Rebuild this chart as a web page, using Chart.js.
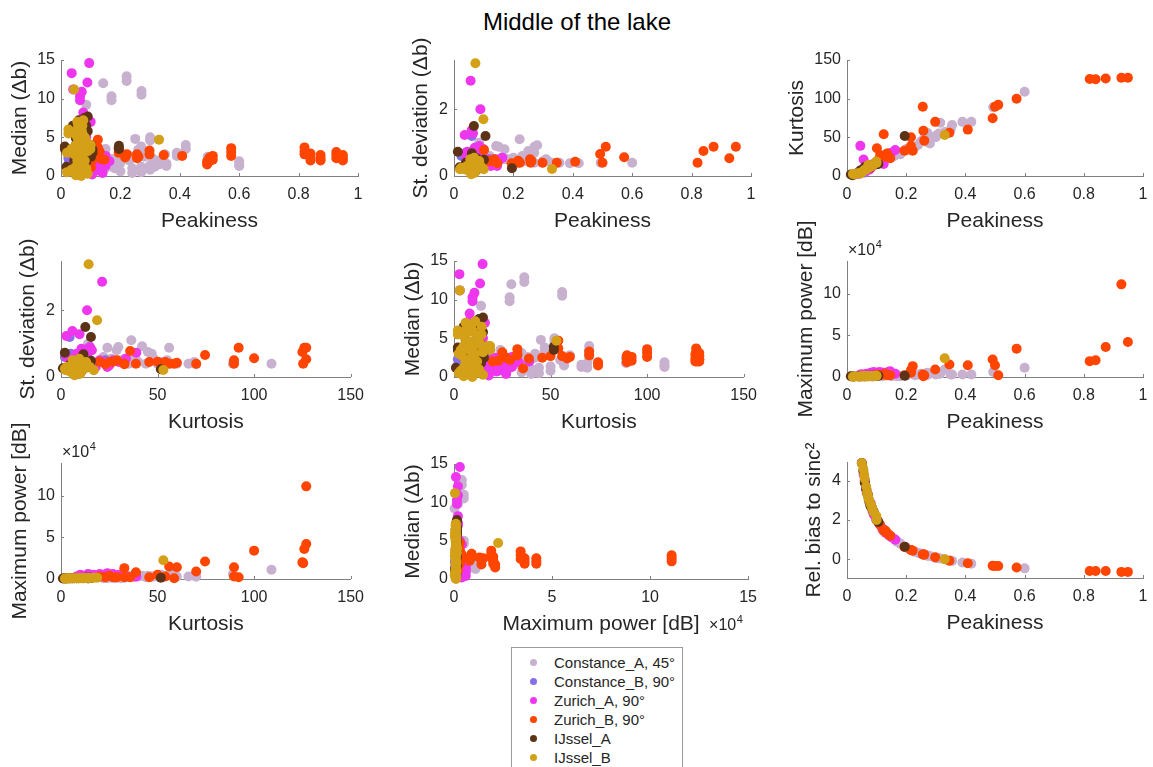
<!DOCTYPE html>
<html>
<head>
<meta charset="utf-8">
<script src="https://cdn.jsdelivr.net/npm/chart.js@4.4.1/dist/chart.umd.min.js"></script>
<style>
body { margin: 0; width: 1153px; height: 767px; overflow: hidden; background: #fff; position: relative;
       font-family: "Liberation Sans", Arial, Helvetica, sans-serif; }
canvas { position: absolute; }
#title { position: absolute; left: 377px; top: 10px; width: 400px; text-align: center;
         font-size: 24px; line-height: 24px; color: #000; }
#legend { position: absolute; left: 511px; top: 647px; width: 170px; height: 200px;
          border: 1px solid #9a9a9a; background: #fff; }
.lg { position: absolute; left: 42px; height: 19px; line-height: 19px; font-size: 15px; color: #262626; white-space: nowrap; }
.dot { position: absolute; left: 18px; width: 7px; height: 7px; border-radius: 50%; }
</style>
</head>
<body>
<div id="title">Middle of the lake</div>
<div id="legend"></div>
<script>
// one row per measurement: [peakiness, [medians], st. deviation, kurtosis, max power (dB), rel. bias to sinc^2]
var constanceA = [
  [0.085, [9.2], 1.0, 14, 300, 2.5],
  [0.142, [12.0], 0.9, 29.7, 3000, 1.25],
  [0.17, [10.3, 9.8], 0.8, 28.8, 2000, 0.9],
  [0.221, [12.9, 12.3], 1.1, 36.4, 4000, 0.45],
  [0.271, [11.0, 10.5], 0.88, 56, 5000, 0.2],
  [0.6, [1.9, 1.5, 1.3], 0.4, 109, 11000, -0.46],
  [0.494, [2.5, 1.8], 0.4, 89, 6000, -0.34],
  [0.42, [4.0, 3.5], 0.38, 70, 3000, -0.22],
  [0.39, [3.0, 2.6], 0.38, 70, 3000, -0.16],
  [0.355, [1.6, 1.3], 0.4, 66, 3000, -0.08],
  [0.33, [2.0, 1.5], 0.4, 57, 9000, 0.0],
  [0.30, [5.0, 4.6], 0.45, 52, 5000, 0.08],
  [0.315, [1.8, 1.2], 0.45, 69, 4000, 0.04],
  [0.25, [4.8], 0.75, 45, 4000, 0.28],
  [0.27, [3.8, 3.4], 0.7, 47, 3000, 0.2],
  [0.28, [3.0, 2.5], 0.92, 42, 4000, 0.17],
  [0.23, [2.6, 2.0], 0.6, 38, 2000, 0.38],
  [0.2, [2.3, 1.7], 0.55, 33, 1500, 0.6],
  [0.18, [1.6, 1.0], 0.5, 28, 1000, 0.8],
  [0.16, [2.0, 1.4], 0.55, 26, 1500, 1.05],
  [0.15, [3.5, 1.0], 0.88, 24, 1000, 1.15],
  [0.24, [0.4, 1.0], 0.45, 40, 3000, 0.33],
  [0.27, [0.5, 1.2], 0.4, 44, 2000, 0.2],
  [0.3, [0.8, 1.4], 0.4, 50, 3000, 0.08],
  [0.31, [2.2], 0.5, 55, 4000, 0.05],
  [0.2, [0.6, 3.1], 0.4, 35, 2000, 0.6],
  [0.12, [2.5, 1.8], 0.6, 22, 1000, 1.5],
  [0.35, [2.8], 0.4, 60, 3000, -0.06],
  [0.26, [3.4, 2.8], 0.55, 48, 3000, 0.25],
  [0.17, [2.2], 0.5, 31, 1000, 0.9]
];
var constanceB = [
  [0.025, [2.3, 1.5], 0.6, 2, 500, 10],
  [0.06, [1.2, 0.6], 1.2, 4.5, 1000, 4.0],
  [0.09, [1.0], 0.85, 13.8, 3000, 2.4],
  [0.12, [1.2, 0.8], 0.5, 23, 4000, 1.55],
  [0.1, [2.0], 0.4, 18, 3000, 2.0],
  [0.04, [3.0], 0.7, 5, 1000, 6.0]
];
var zurichA = [
  [0.036, [13.3], 1.23, 2.8, 1000, 7.3],
  [0.095, [14.6], 0.5, 14.8, 3000, 2.2],
  [0.089, [12.1], 2.0, 13.5, 2000, 2.4],
  [0.07, [10.9], 0.85, 10.6, 2000, 3.3],
  [0.064, [10.3, 9.8], 1.28, 9.6, 1500, 3.6],
  [0.075, [8.2, 7.3], 0.7, 8.1, 2000, 3.0],
  [0.056, [2.5], 2.86, 21.3, 3000, 4.3],
  [0.06, [6.5], 1.38, 5.9, 1000, 4.0],
  [0.045, [2.0], 0.73, 39, 3000, 5.5],
  [0.041, [11.2], 0.6, 3, 1000, 6.2],
  [0.08, [2.6, 1.4], 0.45, 10, 5000, 2.85],
  [0.09, [2.0, 0.8], 0.55, 14, 6000, 2.3],
  [0.1, [1.5, 0.5], 0.4, 17, 5000, 2.0],
  [0.11, [2.4, 1.2], 0.5, 20, 6000, 1.8],
  [0.12, [1.8, 0.7], 0.45, 22, 5000, 1.55],
  [0.13, [2.2, 1.0], 0.35, 25, 4000, 1.35],
  [0.14, [1.6, 0.4], 0.5, 27, 6000, 1.25],
  [0.15, [2.6, 1.3], 0.45, 30, 5000, 1.12],
  [0.163, [1.9], 0.55, 33.6, 4000, 1.0],
  [0.124, [1.1], 0.3, 15.5, 5000, 1.5],
  [0.05, [3.0, 1.0], 0.5, 8, 3000, 4.9],
  [0.066, [4.5, 2.2], 0.6, 12, 4000, 3.5],
  [0.085, [5.0, 3.2], 0.9, 15, 3000, 2.6],
  [0.105, [0.2, 0.8], 0.3, 18, 4000, 1.9],
  [0.145, [2.3], 0.3, 24, 7000, 1.2],
  [0.1, [7.0], 0.8, 16, 2000, 2.0]
];
var zurichB = [
  [0.82, [3.7, 3.2, 2.8], 0.40, 125.4, 19000, -0.59],
  [0.84, [2.9, 2.4, 2.0], 0.75, 125, 20000, -0.59],
  [0.874, [2.7, 2.3, 2.0], 0.88, 126, 36000, -0.59],
  [0.927, [3.1, 2.7, 2.3], 0.53, 127, 111000, -0.64],
  [0.949, [2.7, 2.3, 2.0], 0.88, 127, 42000, -0.64],
  [0.573, [3.6, 3.1, 2.6], 0.56, 100, 34000, -0.42],
  [0.511, [2.6, 2.1], 0.88, 92, 2000, -0.34],
  [0.5, [2.4, 1.9], 0.4, 89.6, 14000, -0.34],
  [0.492, [1.9, 1.5], 0.66, 74.6, 21000, -0.33],
  [0.408, [2.6], 0.43, 60, 14000, -0.2],
  [0.346, [2.7], 0.4, 56, 15000, -0.07],
  [0.298, [3.3, 2.8], 0.4, 70, 9000, 0.1],
  [0.256, [2.8, 2.3], 0.5, 89.6, 3000, 0.25],
  [0.258, [2.4], 0.4, 58.6, 1000, 0.25],
  [0.261, [2.5], 0.45, 45.7, 2000, 0.24],
  [0.216, [2.7], 0.46, 50, 5000, 0.47],
  [0.216, [2.4], 0.4, 38.8, 8000, 0.47],
  [0.222, [2.8], 0.4, 32.8, 13000, 0.44],
  [0.194, [3.6, 3.0], 0.38, 32.8, 2000, 0.63],
  [0.124, [4.7, 3.7], 0.45, 54, 3000, 1.45],
  [0.101, [1.1], 0.78, 35.8, 2000, 2.0],
  [0.112, [2.5], 0.46, 27, 2000, 1.75],
  [0.135, [2.2], 0.5, 29, 2000, 1.35],
  [0.146, [2.1], 0.38, 23, 2000, 1.2],
  [0.104, [2.0], 0.46, 20, 3000, 1.95],
  [0.13, [3.2], 0.45, 25, 4000, 1.45]
];
var ijsselA = [
  [0.013, [3.8, 3.5], 0.73, 2, 800, 20],
  [0.019, [1.2], 0.26, 1.0, 500, 14],
  [0.195, [3.9, 3.5], 0.23, 51.7, 1500, 0.64],
  [0.067, [6.0, 5.0], 1.5, 12.6, 1500, 3.4],
  [0.106, [3.4, 3.0], 1.2, 15.5, 1500, 1.9],
  [0.05, [4.9, 4.0], 0.3, 6, 1000, 4.9],
  [0.079, [7.5, 6.8, 6.2], 0.35, 13, 1500, 2.76],
  [0.101, [4.0, 2.5], 0.49, 15.5, 1200, 2.0],
  [0.06, [7.2, 6.5, 3.2], 0.68, 11.6, 1000, 3.9],
  [0.076, [5.5, 2.8], 0.53, 12, 1200, 2.9],
  [0.045, [2.0, 0.5], 0.2, 7, 800, 5.5],
  [0.055, [3.5, 1.5], 0.15, 8, 1000, 4.5],
  [0.07, [4.5, 0.3], 0.25, 10, 1200, 3.3],
  [0.085, [6.5, 1.8], 0.3, 14, 1500, 2.6],
  [0.09, [7.7, 5.8], 0.4, 15, 1500, 2.4],
  [0.04, [6.5, 3.0], 0.4, 5, 800, 6.2],
  [0.065, [1.0], 0.1, 9, 1000, 3.6],
  [0.08, [0.6], 0.2, 11, 1200, 2.7]
];
var ijsselB = [
  [0.044, [11.2], 0.3, 3, 500, 5.6],
  [0.33, [4.7], 0.21, 53, 22500, 0.0],
  [0.072, [6.5, 5.5, 4.0], 3.38, 14.3, 1000, 3.1],
  [0.099, [4.0, 3.5], 1.7, 18.7, 1500, 2.2],
  [0.025, [6.0, 5.5], 0.25, 2, 500, 10],
  [0.02, [3.0, 0.5], 0.2, 2.5, 400, 13],
  [0.055, [7.0, 6.0, 5.0, 2.0], 0.5, 6, 800, 4.6],
  [0.06, [4.5, 3.5, 1.0], 0.35, 8, 1000, 4.1],
  [0.065, [6.8, 2.5, 0.2], 0.2, 9, 1000, 3.7],
  [0.07, [5.8, 4.2, 1.5], 0.1, 10, 1000, 3.3],
  [0.075, [7.2, 3.0, 0.5], 0.4, 11, 1000, 3.0],
  [0.08, [5.0, 2.0], 0.25, 12, 1200, 2.8],
  [0.05, [4.0, 1.2, 0.1], 0.15, 5, 800, 4.9],
  [0.045, [5.5, 2.8], 0.3, 4, 700, 5.5],
  [0.085, [4.5, 1.0], 0.45, 13, 1200, 2.6],
  [0.09, [3.2, 0.3], 0.3, 15, 1200, 2.4],
  [0.035, [3.5, 0.8], 0.2, 3.5, 600, 7.5],
  [0.068, [6.0, 3.8, 0.0], 0.55, 9.5, 1000, 3.4],
  [0.058, [6.5, 2.2, 0.4], 0.05, 7, 900, 4.3],
  [0.1, [4.0], 0.2, 17, 1500, 2.0]
];

var seriesNames = ['Constance_A, 45°', 'Constance_B, 90°', 'Zurich_A, 90°', 'Zurich_B, 90°', 'IJssel_A', 'IJssel_B'];
var seriesColors = ['#C7B1CF', '#876EEB', '#EE36EE', '#FF4500', '#5C3317', '#D4A017'];
var seriesRows = [constanceA, constanceB, zurichA, zurichB, ijsselA, ijsselB];

// axis ranges and ticks
var peakRange = [0, 1],        peakTicks = [0, 0.2, 0.4, 0.6, 0.8, 1];
var medianRange = [0, 15],     medianTicks = [0, 5, 10, 15];
var stdRange = [0, 3.48],      stdTicks = [0, 2];
var kurtRange = [0, 150],      kurtTicks = [0, 50, 100, 150];
var powerRangeY = [0, 139000], powerTicksY = [0, 50000, 100000];
var powerRangeX = [0, 150000], powerTicksX = [0, 50000, 100000, 150000];
var biasRange = [-0.95, 4.95], biasTicks = [0, 2, 4];

var COL = { peak: 0, median: 1, std: 2, kurt: 3, power: 4, bias: 5 };
var axisTitles = {
  peak: 'Peakiness', median: 'Median (\u0394b)', std: 'St. deviation (\u0394b)',
  kurt: 'Kurtosis', power: 'Maximum power [dB]', bias: 'Rel. bias to sinc\u00B2'
};

// area = [left, right, top, bottom] of the plot box on the page
var panels = [
  { x: 'peak', xr: peakRange, xt: peakTicks, y: 'median', yr: medianRange, yt: medianTicks, area: [61, 358, 60, 176] },
  { x: 'peak', xr: peakRange, xt: peakTicks, y: 'std', yr: stdRange, yt: stdTicks, area: [454, 751, 60, 176] },
  { x: 'peak', xr: peakRange, xt: peakTicks, y: 'kurt', yr: kurtRange, yt: kurtTicks, area: [847, 1143, 60, 176] },
  { x: 'kurt', xr: kurtRange, xt: kurtTicks, y: 'std', yr: stdRange, yt: stdTicks, area: [61, 358, 261, 377] },
  { x: 'kurt', xr: kurtRange, xt: kurtTicks, y: 'median', yr: medianRange, yt: medianTicks, area: [454, 751, 261, 377] },
  { x: 'peak', xr: peakRange, xt: peakTicks, y: 'power', yr: powerRangeY, yt: powerTicksY, area: [847, 1143, 261, 377], expo: 'y' },
  { x: 'kurt', xr: kurtRange, xt: kurtTicks, y: 'power', yr: powerRangeY, yt: powerTicksY, area: [61, 358, 463, 579], expo: 'y' },
  { x: 'power', xr: powerRangeX, xt: powerTicksX, y: 'median', yr: medianRange, yt: medianTicks, area: [454, 751, 464, 579], expo: 'x' },
  { x: 'peak', xr: peakRange, xt: peakTicks, y: 'bias', yr: biasRange, yt: biasTicks, area: [847, 1143, 462, 578] }
];

var fam = '"Liberation Sans", Arial, Helvetica, sans-serif';
var textColor = '#262626';
var axisColor = '#808080';
Chart.defaults.font.family = fam;

function points(rows, xk, yk) {
  var out = [];
  rows.forEach(function (r) {
    var xs = xk === 'median' ? r[1] : [r[COL[xk]]];
    var ys = yk === 'median' ? r[1] : [r[COL[yk]]];
    xs.forEach(function (xv) {
      ys.forEach(function (yv) { out.push({ x: xv, y: yv }); });
    });
  });
  return out;
}

function drawExpo(ctx, x, y) {
  ctx.save();
  ctx.fillStyle = textColor;
  ctx.textAlign = 'left';
  ctx.textBaseline = 'alphabetic';
  ctx.font = '16px ' + fam;
  ctx.fillText('\u00D710', x, y);
  var w = ctx.measureText('\u00D710').width;
  ctx.font = '11px ' + fam;
  ctx.fillText('4', x + w + 0.5, y - 7);
  ctx.restore();
}

// inward tick marks, rotated y titles, x10^4 exponents
var axisDecor = {
  id: 'axisDecor',
  beforeDatasetsDraw: function (chart) {
    var ctx = chart.ctx, a = chart.chartArea, xs = chart.scales.x, ys = chart.scales.y;
    ctx.save();
    ctx.strokeStyle = axisColor;
    ctx.lineWidth = 1;
    ctx.beginPath();
    xs.ticks.forEach(function (t) {
      var px = Math.round(xs.getPixelForValue(t.value)) + 0.5;
      ctx.moveTo(px, a.bottom); ctx.lineTo(px, a.bottom - 3);
    });
    ys.ticks.forEach(function (t) {
      var py = Math.round(ys.getPixelForValue(t.value)) + 0.5;
      ctx.moveTo(a.left, py); ctx.lineTo(a.left + 3, py);
    });
    ctx.stroke();
    ctx.restore();
  },
  afterDraw: function (chart, args, opts) {
    var ctx = chart.ctx, a = chart.chartArea, ys = chart.scales.y;
    ctx.save();
    ctx.font = '16px ' + fam;
    var lw = 0;
    ys.ticks.forEach(function (t) { lw = Math.max(lw, ctx.measureText(String(t.label)).width); });
    ctx.font = '21px ' + fam;
    ctx.fillStyle = textColor;
    ctx.textAlign = 'center';
    ctx.textBaseline = 'middle';
    ctx.translate(a.left - 6 - lw - 17.5, (a.top + a.bottom) / 2);
    ctx.rotate(-Math.PI / 2);
    ctx.fillText(opts.yTitle, 0, 0);
    ctx.restore();
    if (opts.expo === 'y') drawExpo(ctx, a.left + 1, a.top - 6);
    if (opts.expo === 'x') drawExpo(ctx, a.right - 39, a.bottom + 51);
  }
};

function tickLabel(key) {
  return function (v) { return key === 'power' ? String(v / 10000) : String(v); };
}

function makePanel(p) {
  var a = p.area;
  var padT = 45, padR = 15, padB = 5, yW = 70, xH = 60;
  var w = (a[1] - a[0]) + yW + padR, h = (a[3] - a[2]) + padT + xH + padB;
  var cv = document.createElement('canvas');
  cv.width = w; cv.height = h;
  cv.style.left = (a[0] - yW) + 'px';
  cv.style.top = (a[2] - padT) + 'px';
  cv.style.width = w + 'px';
  cv.style.height = h + 'px';
  document.body.appendChild(cv);

  // later series are drawn on top, as in the legend order
  var datasets = seriesRows.map(function (rows, i) {
    return {
      label: seriesNames[i],
      data: points(rows, p.x, p.y),
      backgroundColor: seriesColors[i],
      borderWidth: 0,
      pointRadius: 5,
      pointHoverRadius: 5,
      order: seriesRows.length - 1 - i,
      clip: 6
    };
  });

  new Chart(cv, {
    type: 'scatter',
    data: { datasets: datasets },
    options: {
      responsive: false,
      animation: false,
      events: [],
      layout: { padding: { left: 0, top: padT, right: padR, bottom: padB } },
      plugins: {
        legend: { display: false },
        tooltip: { enabled: false },
        axisDecor: { yTitle: axisTitles[p.y], expo: p.expo }
      },
      scales: {
        x: {
          type: 'linear', min: p.xr[0], max: p.xr[1],
          afterBuildTicks: function (s) { s.ticks = p.xt.map(function (v) { return { value: v }; }); },
          afterFit: function (s) { s.height = xH; },
          grid: { display: false, drawTicks: false },
          border: { display: true, color: axisColor, width: 1 },
          ticks: { padding: 9, color: textColor, font: { size: 16 }, maxRotation: 0, autoSkip: false, callback: tickLabel(p.x) },
          title: { display: true, text: axisTitles[p.x], color: textColor, font: { size: 21 }, padding: { top: 0, bottom: 2.4 } }
        },
        y: {
          type: 'linear', min: p.yr[0], max: p.yr[1],
          afterBuildTicks: function (s) { s.ticks = p.yt.map(function (v) { return { value: v }; }); },
          afterFit: function (s) { s.width = yW; },
          grid: { display: false, drawTicks: false },
          border: { display: true, color: axisColor, width: 1 },
          ticks: { padding: 6, color: textColor, font: { size: 16 }, autoSkip: false, callback: tickLabel(p.y) },
          title: { display: false }
        }
      }
    },
    plugins: [axisDecor]
  });
}

panels.forEach(makePanel);

// legend
var lg = document.getElementById('legend');
seriesNames.forEach(function (name, i) {
  var cy = 14 + 19 * i;
  var d = document.createElement('div');
  d.className = 'dot';
  d.style.top = (cy - 3.5) + 'px';
  d.style.background = seriesColors[i];
  lg.appendChild(d);
  var t = document.createElement('div');
  t.className = 'lg';
  t.style.top = (cy - 9.5) + 'px';
  t.textContent = name;
  lg.appendChild(t);
});
</script>
</body>
</html>
